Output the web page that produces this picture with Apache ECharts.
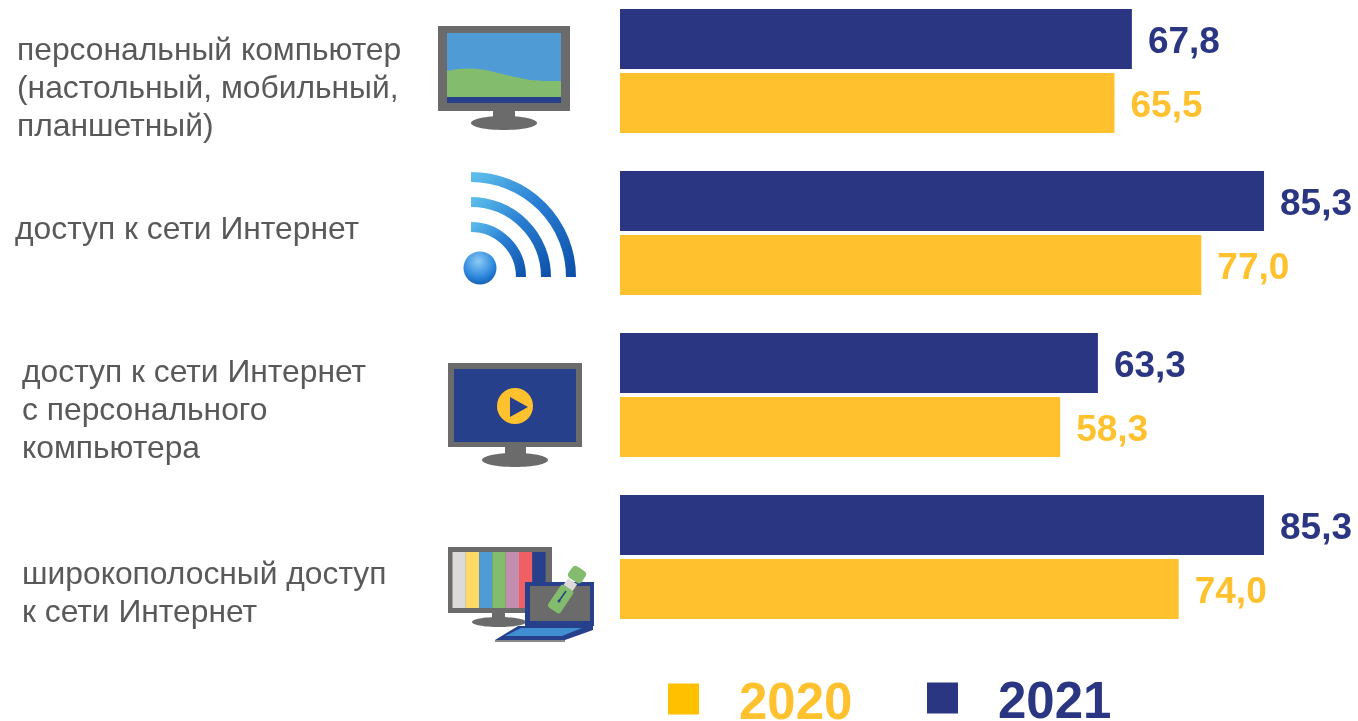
<!DOCTYPE html>
<html>
<head>
<meta charset="utf-8">
<style>
html, body { margin: 0; padding: 0; background: #fff; }
#chart { width: 1358px; height: 721px; }
</style>
<script src="https://cdn.jsdelivr.net/npm/echarts@6/dist/echarts.min.js"></script>
</head>
<body>
<div id="chart"></div>
<script>
const categories = [
    'персональный компьютер\n(настольный, мобильный,\nпланшетный)',
    'доступ к сети Интернет',
    'доступ к сети Интернет\nс персонального\nкомпьютера',
    'широкополосный доступ\nк сети Интернет'
];
const values2021 = [67.8, 85.3, 63.3, 85.3];
const values2020 = [65.5, 77.0, 58.3, 74.0];

const navy = '#2A3682';
const yellow = '#FFC22E';
const grey = '#6B6B6B';
const screenBlue = '#27408B';

// the row captions sit at their own spots in the original, not on the bar centres
const captionPos = [[17, 89], [15, 230], [22, 411], [22, 594]];

function fmt(p) {
    return p.value.toFixed(1).replace('.', ',');
}

function rect(x, y, width, height, fill) {
    return { type: 'rect', shape: { x, y, width, height }, style: { fill } };
}
function stand(x, y, w, h, cx, cy, rx, ry) {
    return [
        rect(x, y, w, h, grey),
        { type: 'ellipse', shape: { cx, cy, rx, ry }, style: { fill: grey } }
    ];
}
function wave(r) {
    return {
        type: 'arc',
        shape: { cx: 471, cy: 277, r, startAngle: -Math.PI / 2, endAngle: 0 },
        style: {
            fill: null,
            lineWidth: 10,
            stroke: {
                type: 'linear', x: 0, y: 0, x2: 1, y2: 1,
                colorStops: [
                    { offset: 0, color: '#63C6EE' },
                    { offset: 0.45, color: '#2A80D4' },
                    { offset: 1, color: '#0A4CA6' }
                ]
            }
        }
    };
}
function legendText(color) {
    return {
        rich: {
            t: { fontSize: 51, fontWeight: 'bold', color, padding: [11, 0, 0, 35] }
        }
    };
}

const barColours = ['#DDDBD9', '#FFD966', '#4F9BD5', '#84BC6E', '#C38DB0', '#EF5F63', screenBlue];

const captions = categories.map((c, i) => ({
    type: 'text',
    x: captionPos[i][0],
    y: captionPos[i][1],
    style: {
        text: c,
        fill: '#595959',
        font: '31.8px "Liberation Sans", Arial, sans-serif',
        lineHeight: 38,
        align: 'left',
        verticalAlign: 'middle'
    }
}));

const icons = [
    // monitor with landscape
    rect(438, 26, 132, 85, grey),
    rect(447, 33, 114, 70, '#4F9BD5'),
    {
        type: 'polygon',
        shape: { points: [[447, 71], [458, 69], [472, 68.5], [486, 70], [500, 73.5], [515, 77], [530, 80], [545, 81], [561, 81], [561, 98], [447, 98]] },
        style: { fill: '#84BC6E' }
    },
    rect(447, 97, 114, 6, screenBlue),
    ...stand(493, 111, 22, 8, 504, 123, 33, 7),

    // wifi
    wave(100), wave(75), wave(50),
    {
        type: 'circle',
        shape: { cx: 480, cy: 268, r: 16.5 },
        style: {
            fill: {
                type: 'radial', x: 0.45, y: 0.3, r: 0.8,
                colorStops: [{ offset: 0, color: '#8CCBF5' }, { offset: 0.6, color: '#2D88DC' }, { offset: 1, color: '#0C4FA8' }]
            }
        }
    },

    // monitor with play button
    rect(448, 363, 134, 84, grey),
    rect(454, 369, 122, 73, screenBlue),
    { type: 'circle', shape: { cx: 515, cy: 406, r: 18 }, style: { fill: yellow } },
    { type: 'polygon', shape: { points: [[510, 397], [528, 407], [510, 417]] }, style: { fill: screenBlue } },
    ...stand(505, 447, 21, 8, 515, 460, 33, 7),

    // monitor with colour bars and laptop
    rect(448, 547, 104, 66, grey),
    ...barColours.map((c, i) => rect(452.5 + i * 13.3, 552, 13.3, 56, c)),
    ...stand(492, 613, 13, 8, 499, 622, 27, 5),
    rect(525, 582, 69, 44, screenBlue),
    rect(530, 586, 60, 35, grey),
    { type: 'polygon', shape: { points: [[495, 640], [518, 626], [593, 626], [593, 630], [565, 640]] }, style: { fill: screenBlue } },
    { type: 'polygon', shape: { points: [[505, 636], [521, 628], [582, 628], [562, 636]] }, style: { fill: '#3F8FD2' } },
    { type: 'polygon', shape: { points: [[495, 640], [565, 640], [565, 642], [495, 642]] }, style: { fill: '#8A8A8A' } },
    // usb stick
    { type: 'rect', x: 562, y: 597, rotation: 0.98, shape: { x: -16, y: -7.5, width: 27, height: 15, r: 3 }, style: { fill: '#84BC6E' } },
    { type: 'rect', x: 562, y: 597, rotation: 0.98, shape: { x: 11, y: -5.5, width: 8, height: 11 }, style: { fill: '#DDDBD9' } },
    { type: 'rect', x: 562, y: 597, rotation: 0.98, shape: { x: 20, y: -8, width: 14, height: 16, r: 4 }, style: { fill: '#84BC6E' } },
    { type: 'circle', shape: { cx: 559, cy: 601, r: 1.5 }, style: { fill: screenBlue } },
    { type: 'line', shape: { x1: 559, y1: 601, x2: 566, y2: 591 }, style: { stroke: screenBlue, lineWidth: 1.5 } }
];

const chart = echarts.init(document.getElementById('chart'));
chart.setOption({
    animation: false,
    textStyle: { fontFamily: '"Liberation Sans", Arial, sans-serif' },
    grid: { left: 620, top: -10, width: 755, height: 648, containLabel: false, outerBoundsMode: 'none' },
    legend: [
        {
            left: 663, top: 674,
            data: [{ name: '2020', icon: 'rect', itemStyle: { color: '#FFC000' } }],
            itemWidth: 31, itemHeight: 31, selectedMode: false,
            formatter: '{t|{name}}',
            textStyle: legendText(yellow)
        },
        {
            left: 922, top: 673,
            data: [{ name: '2021', icon: 'rect' }],
            itemWidth: 31, itemHeight: 31, selectedMode: false,
            formatter: '{t|{name}}',
            textStyle: legendText(navy)
        }
    ],
    xAxis: { type: 'value', min: 0, max: 100, show: false },
    yAxis: {
        type: 'category',
        inverse: true,
        data: categories,
        axisLine: { show: false },
        axisTick: { show: false },
        splitLine: { show: false },
        axisLabel: { show: false }
    },
    series: [
        {
            name: '2021',
            type: 'bar',
            data: values2021,
            barWidth: 60,
            barGap: '7%',
            itemStyle: { color: navy },
            label: { show: true, position: 'right', distance: 16, offset: [0, 4], fontSize: 37, fontWeight: 'bold', color: navy, formatter: fmt }
        },
        {
            name: '2020',
            type: 'bar',
            data: values2020,
            barWidth: 60,
            itemStyle: { color: yellow },
            label: { show: true, position: 'right', distance: 16, offset: [0, 4], fontSize: 37, fontWeight: 'bold', color: yellow, formatter: fmt }
        }
    ],
    graphic: { elements: [...captions, ...icons] }
});
</script>
</body>
</html>
